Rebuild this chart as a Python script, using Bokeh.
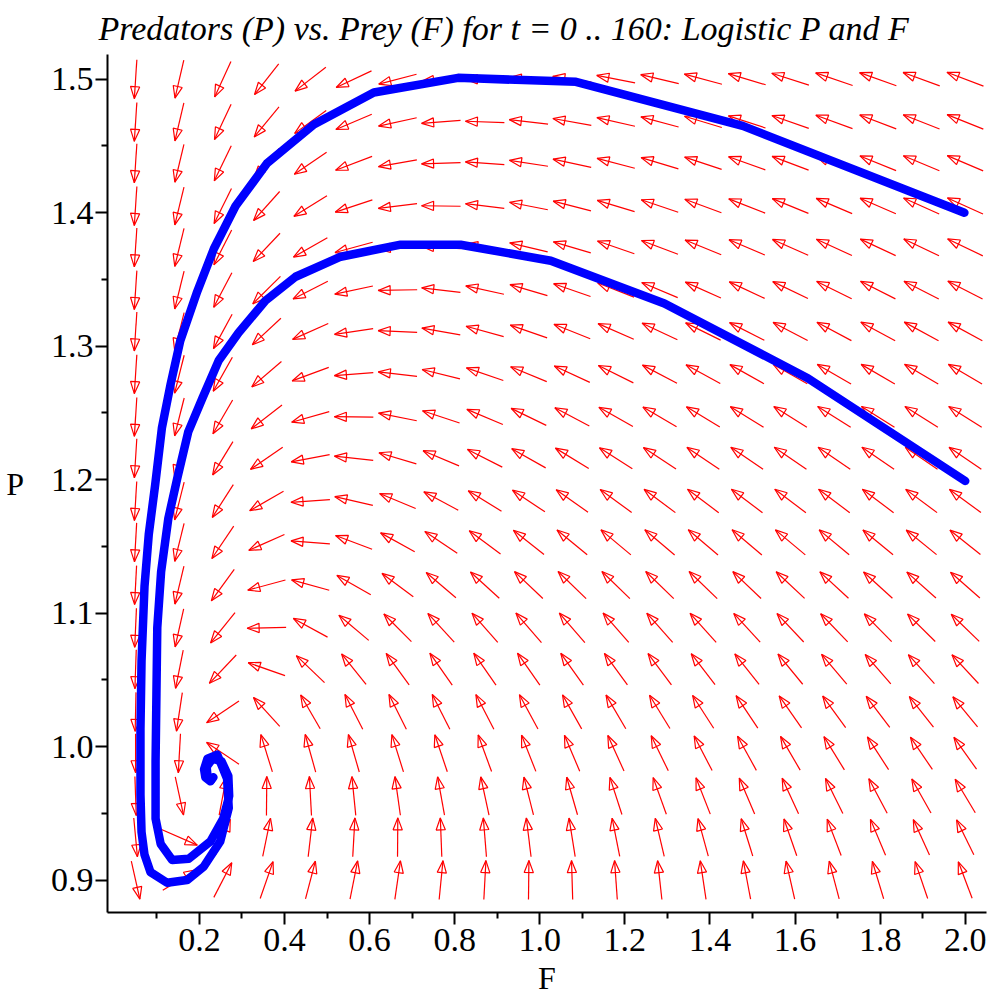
import math
from bokeh.plotting import figure
from bokeh.models import Range1d, FixedTicker, PrintfTickFormatter
from bokeh.embed import file_html
from bokeh.resources import INLINE

TITLE = "Predators (P) vs. Prey (F) for t = 0 .. 160: Logistic P and F"
X_LABEL = "F"
Y_LABEL = "P"

# direction-field sample points (20 x 20 grid)
F_GRID = [0.05, 0.153, 0.255, 0.358, 0.461, 0.563, 0.666, 0.768, 0.871, 0.974,
          1.076, 1.179, 1.282, 1.384, 1.487, 1.589, 1.692, 1.795, 1.897, 2.0]
P_GRID = [0.9, 0.932, 0.963, 0.995, 1.026, 1.058, 1.089, 1.121, 1.153, 1.184,
          1.216, 1.247, 1.279, 1.311, 1.342, 1.374, 1.405, 1.437, 1.468, 1.5]

# model coefficients (estimated from the arrows: nullclines P = 1 - 0.1F and P = 0.8 + 0.8F)
PREY_GROWTH = 1.0
PREY_CAPACITY = 10.0
PREDATION = 1.0
PRED_BASE = 0.1
PRED_GAIN = 0.1
PRED_CROWD = 0.125

# solution curves
TRAJ1_F = [1.998, 1.477, 1.085, 0.808, 0.610, 0.469, 0.359, 0.285, 0.234, 0.195,
           0.155, 0.132, 0.112, 0.096, 0.081, 0.071, 0.064, 0.0615, 0.0615, 0.064,
           0.071, 0.085, 0.124, 0.171, 0.210, 0.249, 0.269, 0.265, 0.242, 0.219,
           0.211, 0.214, 0.226, 0.233]
TRAJ1_P = [1.400, 1.465, 1.498, 1.501, 1.490, 1.466, 1.437, 1.405, 1.373, 1.341,
           1.304, 1.271, 1.239, 1.196, 1.159, 1.120, 1.064, 1.013, 0.964, 0.936,
           0.919, 0.906, 0.898, 0.900, 0.910, 0.929, 0.954, 0.976, 0.994, 0.991,
           0.983, 0.977, 0.974, 0.977]
TRAJ2_F = [2.0, 1.630, 1.293, 1.026, 0.814, 0.673, 0.532, 0.426, 0.355, 0.292,
           0.245, 0.207, 0.174, 0.148, 0.127, 0.110, 0.101, 0.099, 0.097, 0.097,
           0.109, 0.136, 0.175, 0.226, 0.256, 0.270, 0.268, 0.252, 0.231, 0.217,
           0.219, 0.228]
TRAJ2_P = [1.199, 1.276, 1.332, 1.364, 1.376, 1.376, 1.367, 1.352, 1.334, 1.310,
           1.289, 1.261, 1.236, 1.201, 1.171, 1.131, 1.089, 1.039, 0.989, 0.946,
           0.927, 0.915, 0.916, 0.929, 0.946, 0.963, 0.978, 0.989, 0.991, 0.985,
           0.978, 0.975]

X_TICKS = [0.2, 0.4, 0.6, 0.8, 1.0, 1.2, 1.4, 1.6, 1.8, 2.0]
X_MINOR = [0.1, 0.3, 0.5, 0.7, 0.9, 1.1, 1.3, 1.5, 1.7, 1.9]
Y_TICKS = [0.9, 1.0, 1.1, 1.2, 1.3, 1.4, 1.5]
Y_MINOR = [0.95, 1.05, 1.15, 1.25, 1.35, 1.45]

# ---- layout ----
FRAME_W, FRAME_H = 879, 858
X_START, X_END = -0.016, 2.050
Y_START, Y_END = 0.8757, 1.5185
SX = FRAME_W / (X_END - X_START)
SY = FRAME_H / (Y_END - Y_START)
ARROW_LEN = 39.0
HEAD_LEN = 12.0
HEAD_HALF = 4.6

FONT = "Liberation Serif"

p = figure(frame_width=FRAME_W, frame_height=FRAME_H,
           min_border_left=107, min_border_right=2, min_border_top=53, min_border_bottom=83,
           x_range=Range1d(X_START, X_END), y_range=Range1d(Y_START, Y_END),
           output_backend="svg", toolbar_location=None, title=TITLE)

# direction field
x0s, y0s, x1s, y1s, hxs, hys = [], [], [], [], [], []
for P in P_GRID:
    for F in F_GRID:
        dF = PREY_GROWTH * F * (1 - F / PREY_CAPACITY) - PREDATION * F * P
        dP = PRED_BASE * P + PRED_GAIN * F * P - PRED_CROWD * P * P
        vx, vy = dF * SX, dP * SY
        n = math.hypot(vx, vy)
        ux, uy = vx / n, vy / n
        half = ARROW_LEN / 2
        x0s.append(F - ux * half / SX)
        y0s.append(P - uy * half / SY)
        tipx, tipy = ux * half, uy * half
        x1s.append(F + tipx / SX)
        y1s.append(P + tipy / SY)
        bx, by = tipx - ux * HEAD_LEN, tipy - uy * HEAD_LEN
        nx, ny = -uy, ux
        hxs.append([F + tipx / SX, F + (bx + nx * HEAD_HALF) / SX, F + (bx - nx * HEAD_HALF) / SX])
        hys.append([P + tipy / SY, P + (by + ny * HEAD_HALF) / SY, P + (by - ny * HEAD_HALF) / SY])

p.segment(x0s, y0s, x1s, y1s, line_color="#ff0000", line_width=1.2)
p.patches(hxs, hys, fill_alpha=0, line_color="#ff0000", line_width=1.2)

p.line(TRAJ1_F, TRAJ1_P, line_color="#0000ff", line_width=8.5, line_join="round", line_cap="round")
p.line(TRAJ2_F, TRAJ2_P, line_color="#0000ff", line_width=8.5, line_join="round", line_cap="round")

# axes
for ax, ticks, minor in ((p.xaxis, X_TICKS, X_MINOR), (p.yaxis, Y_TICKS, Y_MINOR)):
    ax.ticker = FixedTicker(ticks=ticks, minor_ticks=minor)
    ax.formatter = PrintfTickFormatter(format="%.1f")
    ax.axis_line_width = 2
    ax.axis_line_color = "black"
    ax.major_tick_line_width = 2
    ax.minor_tick_line_width = 2
    ax.major_tick_line_color = "black"
    ax.minor_tick_line_color = "black"
    ax.major_tick_in = 0
    ax.major_tick_out = 12
    ax.minor_tick_in = 0
    ax.minor_tick_out = 6
    ax.major_label_text_font = FONT
    ax.major_label_text_font_size = "34px"
    ax.major_label_text_color = "black"
    ax.axis_label_text_font = FONT
    ax.axis_label_text_font_size = "32px"
    ax.axis_label_text_font_style = "normal"
    ax.axis_label_text_color = "black"

p.xaxis.axis_label = X_LABEL
p.xaxis.major_label_standoff = 4
p.xaxis.axis_label_standoff = 6
p.yaxis.axis_label = Y_LABEL
p.yaxis.axis_label_orientation = "horizontal"
p.yaxis.major_label_standoff = 2
p.yaxis.axis_label_standoff = 24

p.xgrid.visible = False
p.ygrid.visible = False
p.outline_line_color = None
p.background_fill_color = "white"
p.border_fill_color = "white"

p.title.text_font = FONT
p.title.text_font_style = "italic"
p.title.text_font_size = "34px"
p.title.text_color = "black"
p.title.align = "left"
p.title.offset = -9
p.title.standoff = 15

open("out.html", "w").write(file_html(p, INLINE))
